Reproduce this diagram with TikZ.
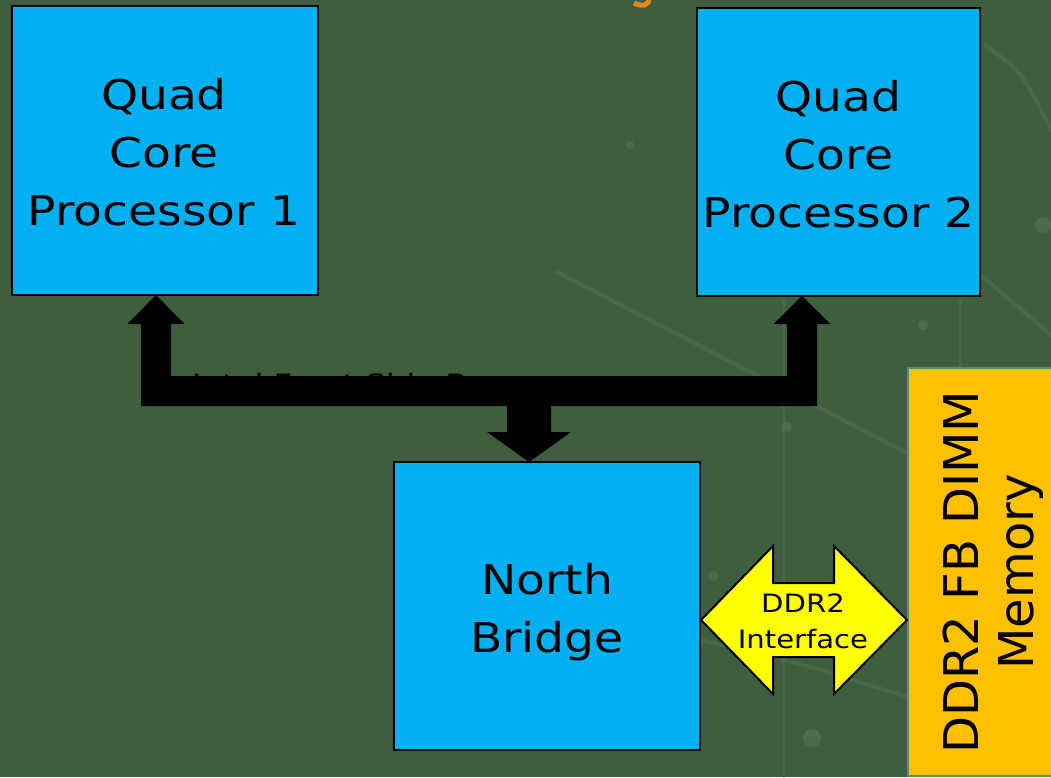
\documentclass[tikz,border=0pt]{standalone}
\usepackage{fontspec}
\setmainfont{DejaVu Sans}[FakeStretch=1.15]
\newfontfamily\plainsans{DejaVu Sans}
\usetikzlibrary{calc}

\definecolor{boardgreen}{HTML}{3F5E3D}
\definecolor{tracegreen}{HTML}{557A55}
\definecolor{chipblue}{HTML}{00B0F0}
\definecolor{ddryellow}{HTML}{FFFF00}
\definecolor{memorange}{HTML}{FFC000}
\definecolor{memedge}{HTML}{4A9A5E}
\definecolor{titleorange}{HTML}{E08A1E}

\tikzset{
  trace/.style={draw=tracegreen, line width=4pt, opacity=0.4, line cap=round},
  pad/.style={fill=tracegreen, opacity=0.55},
  chip/.style={draw=black, line width=2.6pt, fill=chipblue, inner sep=0pt,
    outer sep=0pt},
  chiptext/.style={align=center, inner sep=0pt, font=\fontsize{41}{58}\selectfont},
  bus/.style={fill=black},
  ddrarrow/.style={draw=black, line width=2pt, fill=ddryellow, line join=miter},
  ddrlabel/.style={align=center, inner sep=0pt, font=\fontsize{25.3}{36}\selectfont},
  membox/.style={draw=memedge, line width=1.5pt, fill=memorange, inner sep=0pt,
    outer sep=0pt, align=center, font=\plainsans\fontsize{48}{55}\selectfont},
}

\begin{document}
\begin{tikzpicture}[x=1pt,y=-1pt]
\useasboundingbox (0,0) rectangle (1051,777);
\fill[boardgreen] (0,0) rectangle (1051,777);

% faint circuit-board traces in the background
\draw[trace] (557,272) -- (905,452);
\draw[trace] (700,640) .. controls (790,660) .. (907,697);
\draw[trace, line width=3pt] (783,300) -- (783,777);
\draw[trace, line width=3pt] (960,300) -- (960,368);
\draw[trace] (983,277) -- (1051,335);
\draw[trace] (985,45) .. controls (1022,72) .. (1051,130);
\fill[pad] (923,325) circle (5pt);
\fill[pad] (787,427) circle (5pt);
\fill[pad] (812,738) circle (9pt);
\fill[pad] (713,576) circle (5pt);
\fill[pad] (1043,225) circle (8pt);
\fill[pad] (630,145) circle (4pt);

% orange hook of the heading, cut by the top edge
\draw[titleorange, line width=5pt] (649,-3) .. controls (650,6) and (642,7) .. (634,3);

% processors and north bridge
\node[chip, minimum width=306pt, minimum height=289pt] (p1) at (165,150.5) {};
\node[chiptext] (p1t) at ([xshift=-1pt,yshift=-2pt]p1.center) {Quad\\Core\\Processor 1};
\node[chip, minimum width=283pt, minimum height=288pt] (p2) at (838.5,152) {};
\node[chiptext] (p2t) at ([yshift=-2pt]p2.center) {Quad\\Core\\Processor 2};
\node[chip, minimum width=306pt, minimum height=288pt] (nb) at (547,606) {};
\node[chiptext] (nbt) at ([yshift=-6pt]nb.center) {North\\Bridge};

% bus label, mostly covered by the bus itself
\node[anchor=base west, inner sep=0pt, font=\fontsize{28}{28}\selectfont]
  (fsb) at (192,394) {Intel Front Side Bus};

% front side bus: one solid shape with three arrow heads
\coordinate (tip1) at ([xshift=-9pt]p1.south);
\coordinate (tip2) at ([xshift=-36.5pt]p2.south);
\coordinate (tip3) at ([xshift=-18pt]nb.north);
\fill[bus] (tip1) -- ($(tip1)+(28.5,29)$) -- ($(tip1)+(15,29)$)
  -- ($(tip1)+(15,81)$) -- ($(tip2)+(-15,80)$) -- ($(tip2)+(-15,28)$)
  -- ($(tip2)+(-28.5,28)$) -- (tip2) -- ($(tip2)+(28.5,28)$)
  -- ($(tip2)+(15,28)$) -- ($(tip2)+(15,110)$) -- ($(tip3)+(22,-56)$)
  -- ($(tip3)+(22,-30)$) -- ($(tip3)+(42,-30)$) -- (tip3)
  -- ($(tip3)+(-42,-30)$) -- ($(tip3)+(-22,-30)$) -- ($(tip3)+(-22,-56)$)
  -- ($(tip1)+(-15,111)$) -- ($(tip1)+(-15,29)$) -- ($(tip1)+(-28.5,29)$)
  -- cycle;

% memory module
\node[membox, rotate=90, minimum width=408pt, minimum height=164pt] (mem)
  at (990,572) {};
\node[rotate=90, inner sep=0pt, align=center,
      font=\plainsans\fontsize{48}{55}\selectfont] (memt)
  at ([xshift=3pt]mem.center) {DDR2 FB DIMM\\Memory};

% DDR2 interface double arrow between north bridge and memory
\coordinate (dl) at ([xshift=1pt,yshift=-14pt]nb.east);
\draw[ddrarrow] (dl) -- ++(72,-74) -- ++(0,37) -- ++(61,0) -- ++(0,-37)
  -- ++(73,74) -- ++(-73,74) -- ++(0,-37) -- ++(-61,0) -- ++(0,37) -- cycle;
\node[ddrlabel] (ddr) at ($(dl)+(102,1)$) {DDR2\\Interface};
\end{tikzpicture}
\end{document}
